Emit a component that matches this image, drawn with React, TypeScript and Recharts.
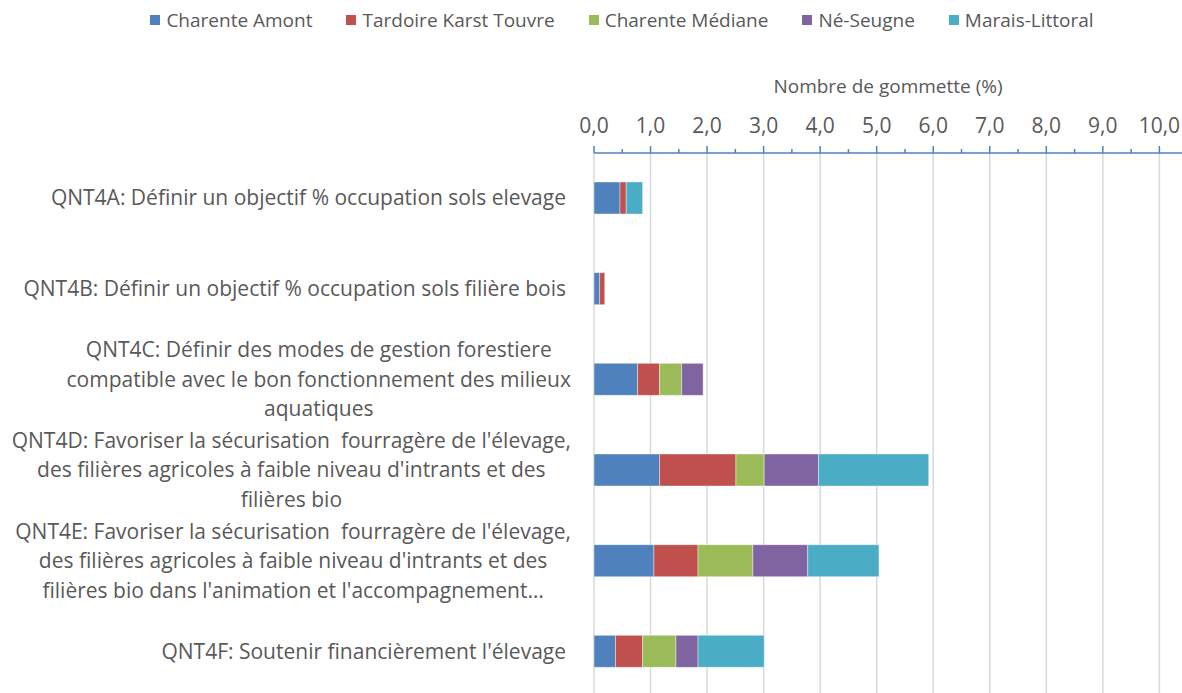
import React from "react";
import {
  BarChart,
  Bar,
  XAxis,
  YAxis,
  CartesianGrid,
  Legend,
} from "recharts";

const CATEGORIES = [
  "QNT4A: Définir un objectif % occupation sols elevage",
  "QNT4B: Définir un objectif % occupation sols filière bois",
  "QNT4C: Définir des modes de gestion forestiere\ncompatible avec le bon fonctionnement des milieux\naquatiques",
  "QNT4D: Favoriser la sécurisation  fourragère de l'élevage,\ndes filières agricoles à faible niveau d'intrants et des\nfilières bio",
  "QNT4E: Favoriser la sécurisation  fourragère de l'élevage,\ndes filières agricoles à faible niveau d'intrants et des\nfilières bio dans l'animation et l'accompagnement…",
  "QNT4F: Soutenir financièrement l'élevage",
];

const SERIES = [
  "Charente Amont",
  "Tardoire Karst Touvre",
  "Charente Médiane",
  "Né-Seugne",
  "Marais-Littoral",
];
const COLORS = ["#4f81bd", "#c0504d", "#9bbb59", "#8064a2", "#4bacc6"];

// values per series, same order as CATEGORIES
const charenteAmont = [0.46, 0.1, 0.77, 1.16, 1.06, 0.38];
const tardoire = [0.11, 0.09, 0.39, 1.35, 0.78, 0.48];
const charenteMediane = [0, 0, 0.39, 0.5, 0.97, 0.59];
const neSeugne = [0, 0, 0.38, 0.96, 0.97, 0.39];
const maraisLittoral = [0.29, 0, 0, 1.95, 1.26, 1.17];

const MAJOR_TICKS = [0, 1, 2, 3, 4, 5, 6, 7, 8, 9, 10];
const MINOR_TICKS = [0.5, 1.5, 2.5, 3.5, 4.5, 5.5, 6.5, 7.5, 8.5, 9.5];
const X_MAX = 10.4;

const TEXT = "#595959";
const FONT_FAMILY = "'Open Sans', sans-serif";
const CAT_SIZE = 21;
const CAT_FONT = `${CAT_SIZE}px 'Open Sans'`;

const data = CATEGORIES.map((name, i) => ({
  name,
  s0: charenteAmont[i],
  s1: tardoire[i],
  s2: charenteMediane[i],
  s3: neSeugne[i],
  s4: maraisLittoral[i],
}));

let ctx: CanvasRenderingContext2D | null = null;
function measure(s: string) {
  if (!ctx) ctx = document.createElement("canvas").getContext("2d");
  if (!ctx) return s.length * 11;
  ctx.font = CAT_FONT;
  return ctx.measureText(s).width;
}

function ValueTick(props: any) {
  const { x, y, payload } = props;
  const v = payload.value as number;
  const major = MAJOR_TICKS.includes(v);
  return (
    <g>
      <line x1={x} y1={y} x2={x} y2={y - (major ? 7 : 4)} stroke="#4f81bd" strokeWidth={1.5} />
      {major && (
        <text x={x} y={y - 20} textAnchor="middle" fill={TEXT} fontSize={21}>
          {v.toFixed(1).replace(".", ",")}
        </text>
      )}
    </g>
  );
}

function CategoryTick(props: any) {
  const { x, y, payload } = props;
  const lines = String(payload.value).split("\n");
  if (lines.length === 1) {
    return (
      <text x={x} y={y + 7} textAnchor="end" fill={TEXT} fontSize={CAT_SIZE} xmlSpace="preserve">
        {lines[0]}
      </text>
    );
  }
  const lh = 29.5;
  const w = Math.max(...lines.map(measure));
  const cx = x + 5 - w / 2;
  const y0 = y - ((lines.length - 1) * lh) / 2;
  return (
    <text fill={TEXT} fontSize={CAT_SIZE} textAnchor="middle" xmlSpace="preserve">
      {lines.map((l, i) => (
        <tspan key={i} x={cx} y={y0 + i * lh + 7}>
          {l}
        </tspan>
      ))}
    </text>
  );
}

function LegendRow() {
  return (
    <div
      style={{
        display: "flex",
        justifyContent: "center",
        alignItems: "center",
        height: 40,
        paddingLeft: 62,
        color: TEXT,
        fontSize: 19,
      }}
    >
      {SERIES.map((s, i) => (
        <div key={s} style={{ display: "flex", alignItems: "center", marginRight: i < SERIES.length - 1 ? 34 : 0 }}>
          <span style={{ width: 10, height: 10, background: COLORS[i], marginRight: 6, display: "inline-block" }} />
          <span>{s}</span>
        </div>
      ))}
    </div>
  );
}

export default function App() {
  return (
    <div style={{ position: "absolute", left: 0, top: 0, fontFamily: FONT_FAMILY, background: "#fff" }}>
      <BarChart
        width={1182}
        height={700}
        data={data}
        layout="vertical"
        margin={{ top: 0, right: 0, bottom: 3, left: 0 }}
        barSize={32}
      >
        <Legend verticalAlign="top" align="center" height={40} content={() => <LegendRow />} />
        <CartesianGrid
          horizontal={false}
          stroke="#d9d9d9"
          strokeWidth={1.5}
          verticalCoordinatesGenerator={({ offset }: any) =>
            MAJOR_TICKS.map((v) => offset.left + (v / X_MAX) * offset.width)
          }
        />
        <XAxis
          type="number"
          orientation="top"
          domain={[0, X_MAX]}
          allowDataOverflow
          ticks={[...MAJOR_TICKS, ...MINOR_TICKS].sort((a, b) => a - b)}
          interval={0}
          height={113}
          tickLine={false}
          tickSize={0}
          tickMargin={0}
          tick={<ValueTick />}
          axisLine={{ stroke: "#4f81bd", strokeWidth: 1.5 }}
          label={{ value: "Nombre de gommette (%)", position: "insideTop", offset: 40, fill: TEXT, fontSize: 19 }}
        />
        <YAxis
          type="category"
          dataKey="name"
          width={594}
          axisLine={false}
          tickLine={false}
          tickSize={0}
          tickMargin={28}
          interval={0}
          tick={<CategoryTick />}
        />
        {SERIES.map((s, i) => (
          <Bar
            key={s}
            dataKey={`s${i}`}
            name={s}
            stackId="a"
            fill={COLORS[i]}
            stroke="#ffffff"
            strokeOpacity={0.4}
            strokeWidth={1}
            isAnimationActive={false}
          />
        ))}
      </BarChart>
    </div>
  );
}
